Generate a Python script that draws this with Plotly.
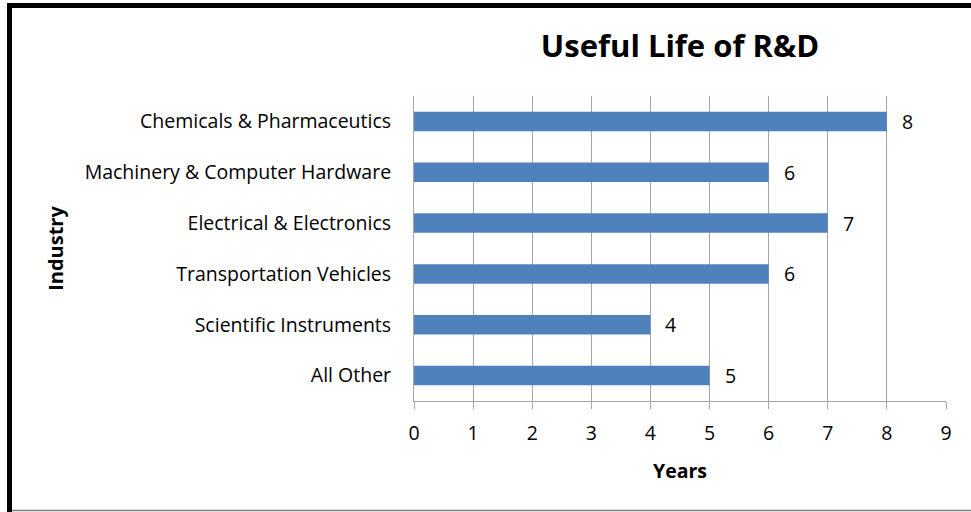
import plotly.graph_objects as go

industries = [
    "Chemicals & Pharmaceutics",
    "Machinery & Computer Hardware",
    "Electrical & Electronics",
    "Transportation Vehicles",
    "Scientific Instruments",
    "All Other",
]
useful_life_years = [8, 6, 7, 6, 4, 5]
x_ticks = [0, 1, 2, 3, 4, 5, 6, 7, 8, 9]

FONT = "Open Sans"
BAR = "#4F81BD"
GRID = "#A6A6A6"

fig = go.Figure()
fig.add_trace(go.Bar(
    x=useful_life_years,
    y=industries,
    orientation="h",
    marker=dict(color=BAR, line=dict(width=0)),
    hoverinfo="x+y",
))

for v, cat in zip(useful_life_years, industries):
    fig.add_annotation(
        x=v, y=cat, xref="x", yref="y",
        text=str(v), showarrow=False,
        xanchor="left", xshift=13,
        font=dict(family=FONT, size=19.5, color="#000000"),
    )

# plot area in px: x 414..946, y 96..401
L, R, T, B = 414, 946, 96, 401
W, H = R - L, B - T
def px_x(p):
    return (p - L) / W
def px_y(p):
    return (B - p) / H

shapes = [
    dict(type="line", xref="paper", yref="paper",
         x0=px_x(9.5), x1=px_x(980), y0=px_y(5.5), y1=px_y(5.5),
         line=dict(color="#000000", width=5)),
    dict(type="line", xref="paper", yref="paper",
         x0=px_x(9.5), x1=px_x(9.5), y0=px_y(3), y1=px_y(520),
         line=dict(color="#000000", width=5)),
    dict(type="line", xref="paper", yref="paper",
         x0=px_x(12), x1=px_x(980), y0=px_y(510.5), y1=px_y(510.5),
         line=dict(color="#808080", width=1.5)),
]

fig.update_layout(
    width=971, height=512,
    margin=dict(l=L, r=971 - R, t=T, b=512 - B, pad=0),
    paper_bgcolor="white", plot_bgcolor="white",
    showlegend=False,
    bargap=0.615,
    font=dict(family=FONT, size=19.5, color="#000000"),
    title=dict(text="<b>Useful Life of R&D</b>", x=0.5, xref="paper",
               xanchor="center", y=1 - 46 / 512, yanchor="middle",
               font=dict(family=FONT, size=31, color="#000000")),
    shapes=shapes,
)

fig.update_xaxes(
    range=[0, 9], tickvals=x_ticks, ticktext=[str(t) for t in x_ticks],
    showgrid=True, gridcolor=GRID, gridwidth=1,
    showline=True, linecolor=GRID, linewidth=1,
    ticks="outside", ticklen=7, tickcolor=GRID, tickwidth=1,
    ticklabelstandoff=8,
    tickfont=dict(family=FONT, size=19.5, color="#000000"),
    zeroline=False, fixedrange=True,
    title=dict(text="<b>Years</b>", standoff=18,
               font=dict(family=FONT, size=19.5, color="#000000")),
)
fig.update_yaxes(
    autorange="reversed",
    showgrid=False, showline=True, linecolor=GRID, linewidth=1, ticks="",
    ticklabelstandoff=18, fixedrange=True,
    tickfont=dict(family=FONT, size=19.5, color="#000000"),
    title=dict(text="<b>Industry</b>", standoff=15,
               font=dict(family=FONT, size=20, color="#000000")),
)

fig.write_html(
    "out.html",
    config={"displayModeBar": False},
    post_script="document.body.style.margin='0';document.body.style.padding='0';",
)
